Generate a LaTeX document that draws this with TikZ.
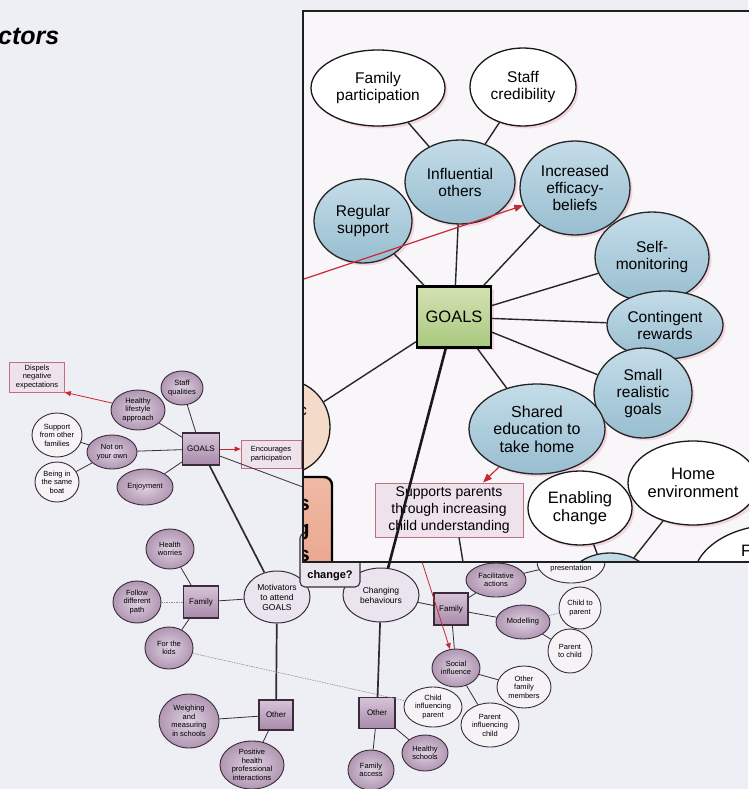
\documentclass[tikz,border=0pt]{standalone}
\usepackage{fontspec}
\setmainfont{Liberation Sans}
\usetikzlibrary{shapes.geometric,shadows,arrows.meta}
\newcommand\txtsize[2]{\fontsize{#1}{#2}\selectfont}
\definecolor{pagebg}{RGB}{238,238,245}
\definecolor{insetbg}{RGB}{248,246,249}
\definecolor{mauvelight}{RGB}{224,210,226}
\definecolor{mauvedark}{RGB}{176,150,178}
\definecolor{lavlight}{RGB}{234,228,238}
\definecolor{edgedark}{RGB}{58,44,56}
\definecolor{paleel}{RGB}{246,243,247}
\definecolor{blueel}{RGB}{152,190,208}
\definecolor{bluelight}{RGB}{196,220,232}
\definecolor{goalgreen}{RGB}{168,200,126}
\definecolor{goallight}{RGB}{212,226,178}
\definecolor{arrowred}{RGB}{200,40,50}
\definecolor{notepink}{RGB}{238,226,236}
\definecolor{noteborder}{RGB}{192,112,122}
\definecolor{peach}{RGB}{244,218,200}
\definecolor{salmon}{RGB}{232,158,134}
\definecolor{salmonlight}{RGB}{240,186,164}
\definecolor{glow}{RGB}{232,150,172}
\definecolor{sqlight}{RGB}{214,196,216}
\definecolor{sqdark}{RGB}{168,138,170}
\tikzset{
  sz/.style 2 args={minimum width=#1pt, minimum height=#2pt},
  smtxt/.style={font=\txtsize{7.5}{8.5}, align=center, text=black, inner sep=0pt},
  smel/.style={ellipse, draw=edgedark, line width=0.9pt, inner color=mauvelight, outer color=mauvedark, smtxt},
  smwh/.style={ellipse, draw=edgedark, line width=0.9pt, fill=paleel, smtxt},
  smlav/.style={ellipse, draw=edgedark, line width=1pt, fill=lavlight, smtxt, font=\txtsize{8.5}{10}},
  smsq/.style={rectangle, draw=edgedark, line width=1.2pt, top color=sqlight, bottom color=sqdark, smtxt, font=\txtsize{8}{9}},
  smnote/.style={rectangle, draw=noteborder, line width=0.7pt, fill=notepink, smtxt},
  thinlink/.style={draw=edgedark, line width=0.8pt},
  thicklink/.style={draw=edgedark!90!black, line width=1.7pt},
  faintlink/.style={draw=edgedark!55, line width=0.6pt, dash pattern=on 1.5pt off 1pt},
  redlink/.style={draw=arrowred, line width=0.8pt, -{Triangle[length=6pt,width=5pt]}},
  halo/.style={drop shadow={shadow xshift=2.5pt, shadow yshift=-2.5pt, fill=glow, opacity=0.35}},
  bigtxt/.style={font=\txtsize{15.5}{17}, align=center, inner sep=0pt},
  bigwhite/.style={ellipse, draw=black!90, line width=1.3pt, fill=white, bigtxt, halo},
  bigblue/.style={ellipse, draw=black!85, line width=1.3pt, top color=bluelight, bottom color=blueel, bigtxt, halo},
  insetlink/.style={draw=black!85, line width=1.4pt},
}
\begin{document}
\begin{tikzpicture}[x=1pt, y=-1pt]
\useasboundingbox (0,0) rectangle (748,789);
\fill[pagebg] (0,0) rectangle (748,789);

% heading
\node[anchor=base west, inner sep=0pt, font=\bfseries\itshape\txtsize{25}{28}] (title) at (-2,45) {ctors};

% ---------- overview map ----------
\node[smnote, sz={55}{30}] (dispels) at (37,377) {Dispels\\negative\\expectations};
\node[smel, sz={42}{34}] (staffq) at (182,388) {Staff\\qualities};
\node[smel, sz={54}{40}] (healthy) at (138,410) {Healthy\\lifestyle\\approach};
\node[smwh, sz={50}{44}] (support) at (57,435) {Support\\from other\\families};
\node[smel, sz={50}{34}] (notown) at (112,452) {Not on\\your own};
\node[smwh, sz={44}{40}] (boat) at (57,482) {Being in\\the same\\boat};
\node[smel, sz={56}{36}] (enjoy) at (145,487) {Enjoyment};
\node[smsq, sz={37}{32}] (sgoals) at (201,449) {GOALS};
\node[smnote, sz={60}{28}] (encour) at (271,454) {Encourages\\participation};
\coordinate (hidA) at (335,499);

\node[smel, sz={48}{40}] (healthw) at (170,549) {Health\\worries};
\node[smel, sz={48}{42}] (follow) at (137,602) {Follow\\different\\path};
\node[smsq, sz={35}{32}] (famL) at (201,602) {Family};
\node[smel, sz={48}{42}] (kids) at (169,648) {For the\\kids};
\node[smlav, sz={66}{52}] (motiv) at (277,597) {Motivators\\to attend\\GOALS};
\node[smsq, sz={34}{30}] (otherL) at (276,715) {Other};
\node[smel, sz={60}{54}] (weigh) at (189,721) {Weighing\\and\\measuring\\in schools};
\node[smel, sz={64}{48}] (positive) at (252,765) {Positive\\health\\professional\\interactions};

\node[smlav, sz={76}{54}] (chg) at (381,595) {Changing\\behaviours};
\node[smsq, sz={34}{32}] (famR) at (451,609) {Family};
\node[smel, sz={60}{34}] (facil) at (496,580) {Facilitative\\actions};
\node[smwh, sz={68}{42}, label={[smtxt, yshift=-7pt]center:presentation}] (present) at (571,562) {};
\node[smel, sz={54}{34}] (modelling) at (523,622) {Modelling};
\node[smwh, sz={42}{42}] (childpar) at (580,608) {Child to\\parent};
\node[smwh, sz={44}{44}] (parchild) at (570,651) {Parent\\to child};
\node[smel, sz={48}{38}] (social) at (456,668) {Social\\influence};
\node[smwh, sz={54}{42}] (otherfam) at (524,687) {Other\\family\\members};
\node[smwh, sz={58}{40}] (childinf) at (433,707) {Child\\influencing\\parent};
\node[smwh, sz={58}{44}] (parinf) at (490,725) {Parent\\influencing\\child};
\node[smsq, sz={36}{31}] (otherR) at (377,713) {Other};
\node[smel, sz={46}{36}] (healthysch) at (425,753) {Healthy\\schools};
\node[smel, sz={46}{40}] (famaccess) at (371,770) {Family\\access};
\coordinate (hidB) at (417,546);

% box whose upper part lies under the enlarged view
\node[rectangle, rounded corners=5pt, draw=edgedark, line width=1.1pt, fill=lavlight, sz={60}{54}] (chgq) at (330,560) {};
\node[inner sep=0pt, font=\bfseries\txtsize{11}{12}] (chgqtext) at (330,576) {change?};

% overview links
\draw[redlink] (healthy.165) -- (dispels.south east);
\draw[thinlink] (staffq) -- (sgoals);
\draw[thinlink] (healthy) -- (sgoals);
\draw[thinlink] (notown) -- (sgoals);
\draw[thinlink] (enjoy) -- (sgoals);
\draw[thinlink] (support) -- (notown);
\draw[thinlink] (boat) -- (notown);
\draw[redlink] (sgoals.east) -- (encour.west |- sgoals.east);
\draw[thinlink] (sgoals) -- (hidA);
\draw[thicklink] (sgoals) -- (motiv);

\draw[thinlink] (healthw) -- (famL);
\draw[faintlink] (follow) -- (famL);
\draw[thinlink] (kids) -- (famL);
\draw[thinlink] (famL) -- (motiv);
\draw[thicklink] (motiv) -- (otherL);
\draw[thinlink] (weigh) -- (otherL);
\draw[thinlink] (positive) -- (otherL);
\draw[faintlink] (kids) -- (childinf);

\draw[thinlink] (chg) -- (famR);
\draw[thicklink] (chg) -- (otherR);
\draw[thinlink] (famR) -- (facil);
\draw[thinlink] (famR) -- (modelling);
\draw[thinlink] (famR) -- (social);
\draw[thinlink] (facil) -- (present);
\draw[faintlink] (modelling) -- (childpar);
\draw[thinlink] (modelling) -- (parchild);
\draw[thinlink] (social) -- (otherfam);
\draw[thinlink] (social) -- (parinf);
\draw[thinlink] (otherR) -- (healthysch);
\draw[thinlink] (otherR) -- (famaccess);
\draw[redlink] (hidB) -- (social);

% ---------- enlarged view ----------
\fill[insetbg] (303,11) rectangle (760,562);
\begin{scope}
\clip (303,11) rectangle (760,562);
\node[ellipse, draw=black!90, line width=1.3pt, fill=peach, sz={90}{94}] (peachel) at (285,427) {};
\node[rectangle, rounded corners=8pt, draw=black, line width=2.4pt, top color=salmonlight, bottom color=salmon, sz={82}{130}] (salmonbox) at (291,542) {};
\node[anchor=base east, inner sep=0pt, font=\txtsize{15.5}{17}] (lc) at (307,415) {c};
\node[anchor=base east, inner sep=0pt, font=\bfseries\txtsize{21}{22}] (ls1) at (310,510) {s};
\node[anchor=base east, inner sep=0pt, font=\bfseries\txtsize{21}{22}] (lg) at (310,535) {g};
\node[anchor=base east, inner sep=0pt, font=\bfseries\txtsize{21}{22}] (ls2) at (310,561) {s};

\node[bigwhite, sz={134}{76}] (fampart) at (378,88) {Family\\participation};
\node[bigwhite, sz={106}{78}] (staffcred) at (523,87) {Staff\\credibility};
\node[bigblue, sz={110}{84}] (influential) at (460,182) {Influential\\others};
\node[bigblue, sz={110}{94}] (efficacy) at (575,188) {Increased\\efficacy-\\beliefs};
\node[bigblue, sz={98}{84}] (regular) at (363,221) {Regular\\support};
\node[bigblue, sz={114}{90}] (selfmon) at (652,257) {Self-\\monitoring};
\node[bigblue, sz={116}{68}] (contingent) at (665,325) {Contingent\\rewards};
\node[bigblue, sz={98}{90}] (smallgoals) at (643,393) {Small\\realistic\\goals};
\node[bigblue, sz={136}{90}, font=\txtsize{16}{17.5}] (shared) at (537,429) {Shared\\education to\\take home};
\node[rectangle, draw=black, line width=2.2pt, top color=goallight, bottom color=goalgreen, sz={74}{61}, font=\txtsize{16.5}{18}, halo] (goalsbig) at (454,317) {GOALS};
\node[rectangle, draw=noteborder, line width=1pt, fill=notepink, sz={148}{54}, font=\txtsize{14}{17}, align=center, inner sep=0pt] (supports) at (449,510) {Supports parents\\through increasing\\child understanding};
\node[bigblue, sz={90}{70}] (bluepart) at (610,588) {};
\node[bigwhite, sz={104}{74}, font=\txtsize{16.5}{18}] (enabling) at (580,508) {Enabling\\change};
\node[bigwhite, sz={130}{84}, font=\txtsize{16.5}{18}] (homeenv) at (693,483) {Home\\environment};
\node[bigwhite, sz={164}{110}] (rightpart) at (775,580) {};
\node[anchor=base west, inner sep=0pt, font=\txtsize{16.5}{18}] (rightF) at (741,556) {F};
\coordinate (hidC) at (304,279);
\coordinate (hidD) at (464,568);

\draw[insetlink] (fampart) -- (influential);
\draw[insetlink] (staffcred) -- (influential);
\draw[insetlink] (regular) -- (goalsbig);
\draw[insetlink] (influential) -- (goalsbig);
\draw[insetlink] (efficacy) -- (goalsbig);
\draw[insetlink] (selfmon) -- (goalsbig);
\draw[insetlink] (contingent) -- (goalsbig);
\draw[insetlink] (smallgoals) -- (goalsbig);
\draw[insetlink] (shared) -- (goalsbig);
\draw[insetlink] (goalsbig) -- (peachel);
\draw[insetlink] ([xshift=10pt]supports.south) -- (hidD);
\draw[insetlink] (enabling) -- (bluepart);
\draw[insetlink] (homeenv) -- (bluepart);
\draw[redlink, line width=1.2pt, -{Triangle[length=9pt,width=7pt]}] (hidC) -- (efficacy);
\draw[redlink, line width=1.2pt, -{Triangle[length=9pt,width=7pt]}] (shared.225) -- ([xshift=34pt]supports.north);
\end{scope}
\draw[line width=2.2pt, draw=black!88] (303,11) rectangle (770,562);

% link crossing from the enlarged view down to the overview
\draw[line width=2.6pt, draw=black!90] (goalsbig) -- (chg);
\end{tikzpicture}
\end{document}
